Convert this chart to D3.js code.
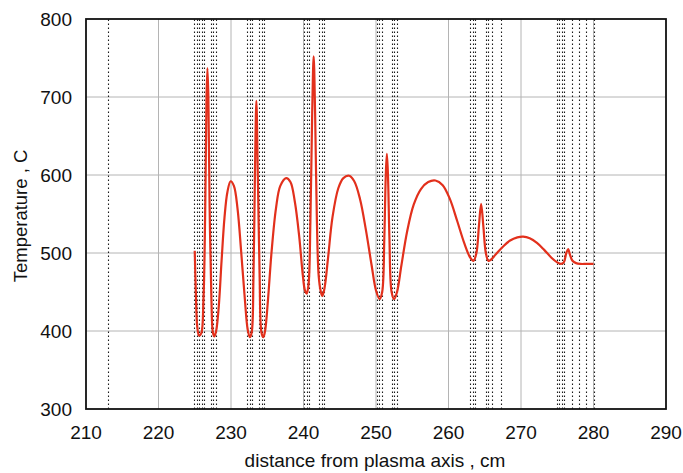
<!DOCTYPE html>
<html lang="en">
<head>
    <meta charset="UTF-8">
    <title>Temperature profile</title>

    <script src="https://d3js.org/d3.v7.min.js"></script>

    <style>
        body {
            margin: 0;
            background: #fff;
        }
        svg text {
            font-family: "Liberation Sans", Arial, Helvetica, sans-serif;
            fill: #111;
        }
    </style>

    <script>

        const X_TICKS = [210, 220, 230, 240, 250, 260, 270, 280, 290];
        const Y_TICKS = [300, 400, 500, 600, 700, 800];

        // layer boundaries (dotted lines), cm
        const BOUNDARIES = [
            213.0,
            224.9, 225.27, 225.6, 225.96, 226.28, 227.24, 227.56, 227.93,
            232.25, 232.6, 232.9, 233.9, 234.3, 234.6,
            240.07, 240.44, 240.76, 242.14, 242.5, 242.87,
            250.1, 250.46, 250.79, 252.16, 252.48, 252.85,
            262.97, 263.35, 263.66, 265.17, 265.49, 265.96, 267.2,
            274.99, 275.27, 275.6, 275.9, 277.0, 278.0, 279.0, 280.0
        ];

        // temperature profile
        const DIST = [
            225.0, 225.15, 225.35, 225.6, 225.9, 226.2, 226.45, 226.62, 226.75, 226.88,
            227.05, 227.3, 227.5, 227.7, 227.95, 228.3, 228.7, 229.1, 229.5, 229.95,
            230.4, 230.9, 231.4, 231.9, 232.3, 232.6, 232.85, 233.1, 233.3, 233.5,
            233.7, 233.95, 234.2, 234.45, 234.7, 235.1, 235.6, 236.2, 236.8, 237.6,
            238.2, 238.8, 239.4, 239.9, 240.2, 240.45, 240.7, 240.95, 241.2, 241.4,
            241.6, 241.85, 242.1, 242.4, 242.6, 242.9, 243.4, 244.0, 244.8, 245.5,
            246.3, 247.0, 247.8, 248.6, 249.4, 250.0, 250.5, 250.85, 251.15, 251.35,
            251.5, 251.65, 251.85, 252.15, 252.5, 252.9, 253.5, 254.3, 255.2, 256.2,
            257.2, 258.2, 259.2, 260.2, 261.2, 262.2, 263.0, 263.45, 263.85, 264.2,
            264.5, 264.8, 265.15, 265.5, 265.8, 266.5, 267.5, 268.5, 269.5, 270.3,
            271.2, 272.2, 273.2, 274.2, 275.0, 275.5, 275.9, 276.25, 276.5, 276.75,
            277.1, 277.6, 278.2, 279.0, 280.0
        ];
        const TEMP = [
            503, 450, 405, 394, 397, 440, 560, 700, 737, 700,
            560, 440, 398, 393, 400, 430, 490, 545, 578, 592,
            586, 557, 502, 442, 402, 392, 398, 470, 600, 695,
            600, 470, 398, 392, 400, 440, 502, 557, 586, 596,
            591, 566, 522, 472, 452, 448, 460, 540, 680, 752,
            680, 540, 470, 450, 445, 455, 495, 546, 583, 596,
            599, 592, 569, 530, 484, 452, 441, 450, 520, 600,
            627, 600, 520, 450, 441, 450, 484, 528, 562, 582,
            591, 593, 587, 569, 541, 512, 494, 490, 500, 535,
            563, 535, 500, 490, 491, 498, 508, 516, 520, 521,
            519, 513, 504, 494, 488, 486, 488, 500, 505, 498,
            490, 487, 486, 486, 486
        ];

        document.addEventListener("DOMContentLoaded", function() {
            drawChart();
        });

        function drawChart() {
            const width = 683;
            const height = 473;
            const margin = {top: 19, right: 17, bottom: 64, left: 86};

            const svg = d3.select("svg")
                .attr("width", width)
                .attr("height", height);

            const x = d3.scaleLinear()
                .domain([210, 290])
                .range([margin.left, width - margin.right]);
            const y = d3.scaleLinear()
                .domain([300, 800])
                .range([height - margin.bottom, margin.top]);

            // grid
            svg.append("g")
                .selectAll("line")
                .data(X_TICKS.slice(1, -1))
                .join("line")
                .attr("x1", d => x(d)).attr("x2", d => x(d))
                .attr("y1", y(300)).attr("y2", y(800))
                .attr("stroke", "#b4b4b4")
                .attr("stroke-width", 1);

            svg.append("g")
                .selectAll("line")
                .data(Y_TICKS.slice(1, -1))
                .join("line")
                .attr("x1", x(210)).attr("x2", x(290))
                .attr("y1", d => y(d)).attr("y2", d => y(d))
                .attr("stroke", "#b4b4b4")
                .attr("stroke-width", 1);

            // dotted boundaries
            svg.append("g")
                .selectAll("line")
                .data(BOUNDARIES)
                .join("line")
                .attr("x1", d => Math.round(x(d)) + 0.5).attr("x2", d => Math.round(x(d)) + 0.5)
                .attr("y1", y(300)).attr("y2", y(800))
                .attr("stroke", "#1a1a1a")
                .attr("stroke-width", 1.1)
                .attr("stroke-dasharray", "1.5,2.5");

            // curve
            const points = DIST.map((d, i) => [d, TEMP[i]]);
            const line = d3.line()
                .x(d => x(d[0]))
                .y(d => y(d[1]))
                .curve(d3.curveCatmullRom.alpha(0.5));

            svg.append("path")
                .datum(points)
                .attr("d", line)
                .attr("fill", "none")
                .attr("stroke", "#e2301c")
                .attr("stroke-width", 2.2)
                .attr("stroke-linejoin", "round");

            // frame
            svg.append("rect")
                .attr("x", x(210)).attr("y", y(800))
                .attr("width", x(290) - x(210))
                .attr("height", y(300) - y(800))
                .attr("fill", "none")
                .attr("stroke", "#111")
                .attr("stroke-width", 1.8);

            // tick labels
            svg.append("g")
                .selectAll("text")
                .data(X_TICKS)
                .join("text")
                .attr("x", d => x(d))
                .attr("y", 439)
                .attr("text-anchor", "middle")
                .style("font-size", "19px")
                .text(d => d);

            svg.append("g")
                .selectAll("text")
                .data(Y_TICKS)
                .join("text")
                .attr("x", 72)
                .attr("y", d => y(d) + 7)
                .attr("text-anchor", "end")
                .style("font-size", "19px")
                .text(d => d);

            // axis titles
            svg.append("text")
                .attr("x", 375)
                .attr("y", 467)
                .attr("text-anchor", "middle")
                .style("font-size", "19px")
                .text("distance from plasma axis , cm");

            svg.append("text")
                .attr("transform", "translate(27,216) rotate(-90)")
                .attr("text-anchor", "middle")
                .style("font-size", "18.5px")
                .text("Temperature , C");
        }

    </script>

</head>
<body>
    <svg id="chart"></svg>
</body>
</html>
